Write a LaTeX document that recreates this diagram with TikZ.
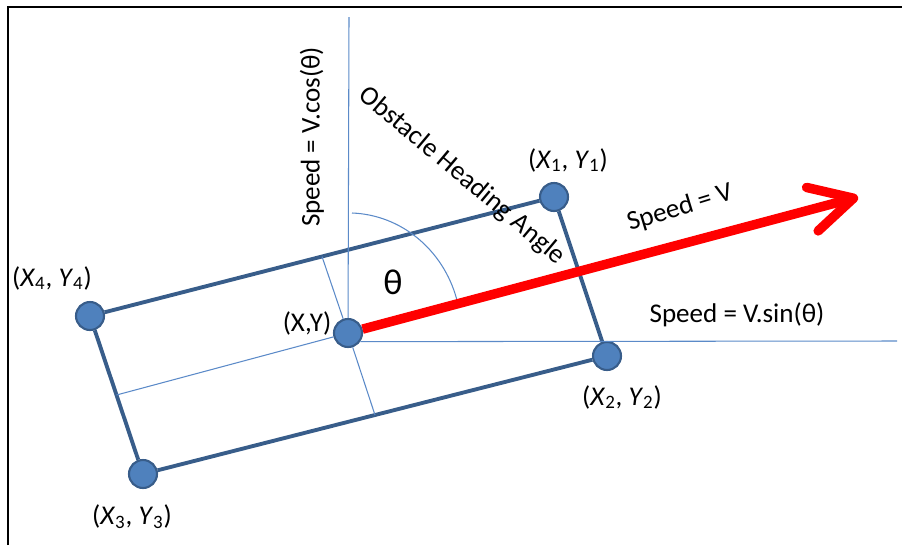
\documentclass[tikz,border=0pt]{standalone}
\usepackage{fontspec}
\setmainfont{Carlito}
\usetikzlibrary{arrows.meta,calc}
\definecolor{rectblue}{RGB}{56,93,138}
\definecolor{dotblue}{RGB}{79,129,189}
\definecolor{axisblue}{RGB}{91,138,200}
\tikzset{
  corner/.style={circle, fill=dotblue, draw=rectblue, line width=1.2pt, minimum size=0.56cm, inner sep=0pt},
  lbl/.style={font=\fontsize{15.4}{18}\selectfont, inner sep=1pt},
  thinline/.style={axisblue, line width=0.6pt}
}
\begin{document}
\begin{tikzpicture}[x=0.02cm, y=-0.02cm]
    \useasboundingbox (0,0) rectangle (902,545);
    % Frame
    \draw[line width=1.4pt] (8,545) -- (8,7) -- (902,7);
    % Corners and centre of the obstacle
    \node[corner] (p1) at (554,197) {};
    \node[corner] (p2) at (607,356) {};
    \node[corner] (p3) at (143,474) {};
    \node[corner] (p4) at (90,316) {};
    \node[corner] (c) at (348,333) {};
    \draw[rectblue, line width=2.2pt] (p1) -- (p2) -- (p3) -- (p4) -- (p1);
    % Axes through the centre
    \coordinate (vtop) at (349,17);
    \coordinate (hend) at (897,341);
    \draw[thinline] (c) -- (vtop);
    \draw[thinline] (c.-35) -- (hend);
    % Centre lines of the box
    \coordinate (m34) at ($(p3)!0.5!(p4)$);
    \coordinate (m41) at ($(p4)!0.5!(p1)$);
    \coordinate (m23) at ($(p2)!0.5!(p3)$);
    \draw[thinline] (m34) -- (c);
    \draw[thinline] (m41) -- (c) -- (m23);
    % Heading angle
    \draw[thinline] (352,213) arc[start angle=-88, end angle=-16, x radius=113, y radius=119];
    % Velocity
    \coordinate (tip) at (858,197);
    \draw[red, line width=5.4pt, -{Straight Barb[length=0.85cm, width=0.9cm, round]}] (c) -- (tip);
    % Labels
    \node[lbl] (l1) at (568,160) {(\textit{X}\textsubscript{1}, \textit{Y}\textsubscript{1})};
    \node[lbl] (l2) at (622,397) {(\textit{X}\textsubscript{2}, \textit{Y}\textsubscript{2})};
    \node[lbl] (l3) at (132,517) {(\textit{X}\textsubscript{3}, \textit{Y}\textsubscript{3})};
    \node[lbl] (l4) at (52,278) {(\textit{X}\textsubscript{4}, \textit{Y}\textsubscript{4})};
    \node[lbl] (lc) at (307,323) {(X,Y)};
    \node[lbl, font=\fontsize{20.5}{24}\selectfont] (th) at (393,282) {θ};
    \node[lbl, rotate=90] (vcos) at (312,137) {Speed = V.cos(θ)};
    \node[lbl, rotate=17] (vv) at (680,208) {Speed = V};
    \node[lbl] (vsin) at (737,315) {Speed = V.sin(θ)};
    \node[lbl, rotate=-40] (hdg) at (462,176) {Obstacle Heading Angle};
\end{tikzpicture}
\end{document}
